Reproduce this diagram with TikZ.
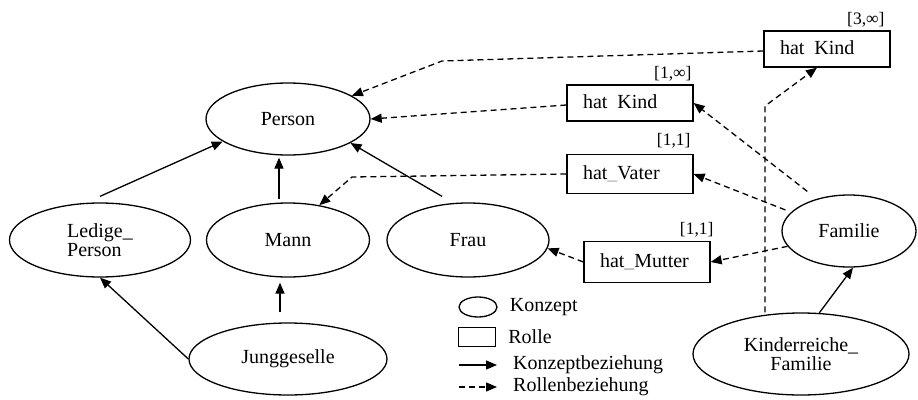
\documentclass[tikz,border=0pt]{standalone}
\usepackage{fontspec}
\setmainfont{Liberation Serif}
\usepackage{xcolor}
\usepackage{tikz}
\usetikzlibrary{positioning,arrows.meta,shapes,shapes.geometric}

\begin{document}
\begin{tikzpicture}[x=1pt,y=-1pt,
	konzept/.style={draw, ellipse, line width=1.3pt, inner sep=0pt, align=center, font=\fontsize{20}{19}\selectfont},
	rolle/.style={draw, rectangle, line width=1.3pt, minimum height=38pt, text width=94pt, inner xsep=16pt, inner ysep=0pt, align=left, font=\fontsize{20}{19}\selectfont},
	anzahl/.style={anchor=base east, inner sep=0pt, font=\fontsize{17.5}{17}\selectfont},
	legende/.style={anchor=west, inner sep=0pt, font=\fontsize{20}{19}\selectfont},
	ist/.style={line width=1.3pt, -{Triangle[length=11pt,width=9pt]}},
	hat/.style={ist, dash pattern=on 6pt off 4pt}]
	\useasboundingbox (0,0) rectangle (918,399);

	\node(person)[konzept, minimum width=164pt, minimum height=72pt] at (288,119) {Person};
	\node(ledige)[konzept, minimum width=181pt, minimum height=74pt, align=left] at (100,240) {Ledige\_\\Person};
	\node(mann)[konzept, minimum width=163pt, minimum height=74pt] at (288,240) {Mann};
	\node(frau)[konzept, minimum width=162pt, minimum height=74pt] at (468,240) {Frau};
	\node(junggeselle)[konzept, minimum width=198pt, minimum height=72pt] at (288,359) {Junggeselle};
	\node(familie)[konzept, minimum width=134pt, minimum height=72pt] at (849,231) {Familie};
	\node(kinderreiche)[konzept, minimum width=216pt, minimum height=82pt] at (801,354) {Kinderreiche\_\\Familie};

	\node(kinda)[rolle, minimum height=36pt] at (827,49) {hat\phantom{\_}Kind};
	\node(kindb)[rolle, minimum height=36pt] at (630,103) {hat\phantom{\_}Kind};
	\node(vater)[rolle, minimum height=39pt] at (630,174) {hat\textcolor{black!35}{\_}Vater};
	\node(mutter)[rolle, minimum height=41pt] at (647,262) {hat\textcolor{black!45}{\_}Mutter};

	\node(zahla)[anzahl] at ([xshift=-6pt,yshift=6pt]kinda.north east) {[3,∞]};
	\node(zahlb)[anzahl] at ([xshift=-2pt,yshift=6pt]kindb.north east) {[1,∞]};
	\node(zahlc)[anzahl] at ([xshift=-3pt,yshift=8pt]vater.north east) {[1,1]};
	\node(zahld)[anzahl] at ([xshift=3pt,yshift=6pt]mutter.north east) {[1,1]};

	\coordinate(knicka) at (442,61);
	\coordinate(knickc) at (352,177);
	\coordinate(knickd) at (765,106);

	\path ([yshift=6pt]ledige.north) edge[ist] (person.199);
	\path ([xshift=-9pt,yshift=3pt]mann.north) edge[ist] ([xshift=-9pt,yshift=-2pt]person.south);
	\path ([xshift=-26pt,yshift=6pt]frau.north) edge[ist] (person.339);
	\path (junggeselle.west) edge[ist] (ledige.south);
	\path ([xshift=-8pt,yshift=10pt]junggeselle.north) edge[ist] ([xshift=-8pt,yshift=-5pt]mann.south);
	\path (kinderreiche.66) edge[ist] ([xshift=4pt]familie.south);

	\draw[hat] ([yshift=-2pt]kinda.west) -- (knicka) -- (person.20);
	\path ([yshift=-2pt]kindb.west) edge[hat] (person.east);
	\draw[hat] (vater.west) -- (knickc) -- (mann.48);
	\draw[hat] (knickd |- kinderreiche.north) -- (knickd) -- ([xshift=-10pt]kinda.south);
	\path (familie.135) edge[hat, shorten <=12pt] (kindb.east);
	\path (familie.162) edge[hat, shorten <=6pt] (vater.east);
	\path (familie.194) edge[hat] (mutter.east);
	\path (mutter.west) edge[hat] (frau.-6);

	\node(lgkonzept)[draw, ellipse, line width=1.3pt, minimum width=38pt, minimum height=20pt, inner sep=0pt] at (478,307) {};
	\node(lgtxta)[legende, right=12pt of lgkonzept] {Konzept};
	\node(lgrolle)[draw, line width=1.3pt, minimum width=37pt, minimum height=19pt, inner sep=0pt] at (477,337) {};
	\node(lgtxtb)[legende, right=12pt of lgrolle] {Rolle};
	\coordinate(lgia) at (459,365);
	\coordinate(lgib) at (497,365);
	\path (lgia) edge[ist] (lgib);
	\node(lgtxtc)[legende, right=16pt of lgib] {Konzeptbeziehung};
	\coordinate(lgha) at (459,387);
	\coordinate(lghb) at (497,387);
	\path (lgha) edge[hat] (lghb);
	\node(lgtxtd)[legende, right=16pt of lghb] {Rollenbeziehung};
\end{tikzpicture}
\end{document}
